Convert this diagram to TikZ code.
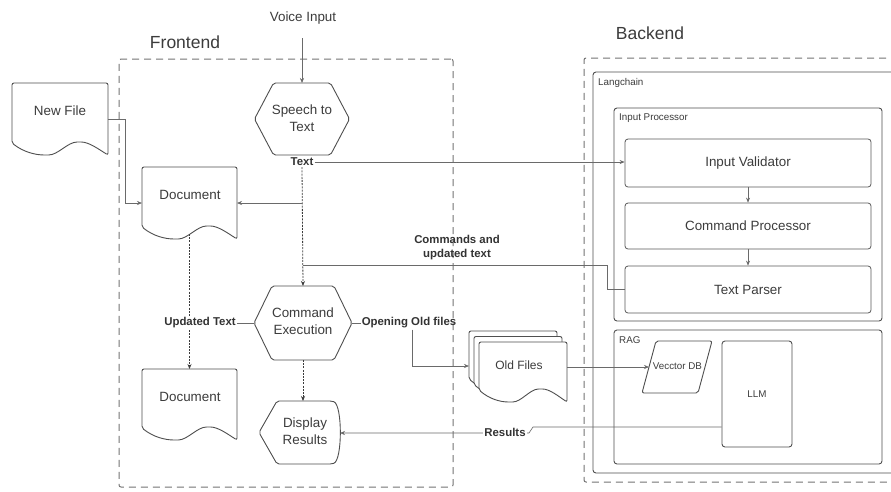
\documentclass[tikz,border=0pt]{standalone}
\usepackage{fontspec}
\setmainfont{Liberation Sans}
\usetikzlibrary{calc,arrows.meta}

\definecolor{ink}{HTML}{3C3C3C}
\definecolor{edge}{HTML}{4F4F4F}
\definecolor{wire}{HTML}{6A6A6A}
\definecolor{frame}{HTML}{747474}

% hexagon outline around a placeholder node: #1 node, #2 corner inset
\newcommand\hexshape[2]{%
  \draw[shapeline] (#1.west) -- ([xshift=#2]#1.north west) -- ([xshift=-#2]#1.north east)
    -- (#1.east) -- ([xshift=-#2]#1.south east) -- ([xshift=#2]#1.south west) -- cycle;}

% document outline (wavy bottom) around a placeholder node: #1 node, #2 extra draw options
\newcommand\docshape[2]{%
  \draw[shapeline,#2] (#1.north west) -- (#1.north east) -- (#1.south east)
    .. controls ($(#1.south west)!0.9!(#1.south east)+(0,-6)$) and ($(#1.south west)!0.8!(#1.south east)+(0,-13)$)
    .. ($(#1.south west)!0.7!(#1.south east)+(0,-13)$)
    .. controls ($(#1.south west)!0.58!(#1.south east)+(0,-13)$) and ($(#1.south west)!0.48!(#1.south east)$)
    .. ($(#1.south west)!0.36!(#1.south east)$)
    .. controls ($(#1.south west)!0.24!(#1.south east)$) and ($(#1.south west)!0.12!(#1.south east)+(0,-3)$)
    .. ($(#1.south west)+(0,-12)$) -- cycle;}

\begin{document}
\begin{tikzpicture}[x=1pt,y=-1pt,
  maintext/.style={text=ink, font=\fontsize{13.4}{16.7}\selectfont, align=center, inner sep=0pt},
  tag/.style={text=ink!85!black, font=\bfseries\fontsize{11.4}{13.3}\selectfont, align=center, inner sep=1pt},
  small/.style={text=ink, font=\fontsize{9.8}{12}\selectfont, inner sep=0pt, anchor=west},
  heading/.style={text=ink, font=\fontsize{17.5}{21}\selectfont, inner sep=0pt},
  holder/.style={draw=none, inner sep=0pt, outer sep=0pt},
  shapeline/.style={draw=edge, line width=0.9pt, rounded corners=2pt},
  container/.style={draw=edge, line width=0.9pt, rounded corners=3pt, inner sep=0pt},
  stepbox/.style={draw=wire!85!black, line width=0.8pt, rounded corners=3pt, minimum width=246pt,
    text=ink, font=\fontsize{13.4}{16.7}\selectfont},
  zone/.style={draw=frame, line width=1pt, dash pattern=on 7pt off 5pt, rounded corners=2pt, inner sep=0pt},
  conn/.style={draw=wire, line width=0.6pt},
  arr/.style={-{Stealth[length=5pt,width=4pt]}},
  dots/.style={draw=ink, line width=0.8pt, dash pattern=on 2pt off 1.2pt}]

\useasboundingbox (0,0) rectangle (891,491);
\fill[white] (0,0) rectangle (891,491);

% dashed zones
\node[zone, minimum width=334pt, minimum height=428pt] (front) at (286,273) {};
\node[zone, minimum width=316pt, minimum height=424pt] (back) at (742,270) {};
\node[heading] (fehead) at (185,42) {Frontend};
\node[heading] (behead) at (650,33) {Backend};

% backend containers
\node[container, minimum width=303pt, minimum height=401pt] (lang) at (744.5,272.5) {};
\node[small] (langlbl) at (598,83) {Langchain};
\node[container, minimum width=268pt, minimum height=213pt] (inproc) at (748,214.5) {};
\node[small] (inproclbl) at (619,118) {Input Processor};
\node[container, minimum width=268pt, minimum height=134pt] (rag) at (748,397) {};
\node[small] (raglbl) at (619,340) {RAG};

% input processor steps
\node[stepbox, minimum height=48pt] (iv) at (748,163) {Input Validator};
\node[stepbox, minimum height=46pt] (cp) at (748,226) {Command Processor};
\node[stepbox, minimum height=47pt] (tp) at (748,289.5) {Text Parser};
\draw[conn,arr] (iv.south) -- (cp.north);
\draw[conn,arr] (cp.south) -- (tp.north);

% RAG parts
\node[holder, minimum width=70pt, minimum height=52pt] (vdb) at (677,367) {};
\draw[shapeline] (vdb.south west) -- ([xshift=14pt]vdb.north west) -- (vdb.north east)
  -- ([xshift=-14pt]vdb.south east) -- cycle;
\node[maintext, font=\fontsize{9.8}{12}\selectfont] (vdbt) at (677.5,366) {Vecctor DB};
\node[container, draw=edge, minimum width=70pt, minimum height=106pt,
  text=ink, font=\fontsize{9.8}{12}\selectfont] (llm) at (757,394) {LLM};

% frontend shapes
\node[maintext] (voice) at (303,18) {Voice Input};
\coordinate (vstart) at (302,38);

\node[holder, minimum width=95pt, minimum height=72pt] (s2t) at (302,119) {};
\hexshape{s2t}{19pt}
\node[maintext] (s2tt) at (302,118) {Speech to\\Text};

\node[holder, minimum width=98pt, minimum height=74pt] (ce) at (303,323) {};
\hexshape{ce}{18pt}
\node[maintext] (cet) at (303,321) {Command\\Execution};

\node[holder, minimum width=81pt, minimum height=63pt] (disp) at (299.5,432.5) {};
\draw[shapeline] (disp.west) -- ([xshift=18pt]disp.north west) -- ([xshift=-8pt]disp.north east)
  .. controls ([xshift=2.5pt,yshift=-4pt]disp.north east) and ([xshift=2.5pt,yshift=4pt]disp.south east)
  .. ([xshift=-8pt]disp.south east) -- ([xshift=18pt]disp.south west) -- cycle;
\node[maintext] (dispt) at (305,431) {Display\\Results};

\node[holder, minimum width=96pt, minimum height=72pt] (nf) at (60,119) {};
\docshape{nf}{}
\node[maintext] (nft) at (60,111) {New File};

\node[holder, minimum width=95pt, minimum height=72pt] (doc1) at (189.5,203) {};
\docshape{doc1}{}
\node[maintext] (doc1t) at (190,195) {Document};

\node[holder, minimum width=95pt, minimum height=71pt] (doc2) at (189.5,404.5) {};
\docshape{doc2}{}
\node[maintext] (doc2t) at (190,397) {Document};

% stacked old files
\node[holder, minimum width=88pt, minimum height=60pt] (ofback) at (513,361) {};
\node[holder, minimum width=88pt, minimum height=60pt] (ofmid) at (518,366.5) {};
\node[holder, minimum width=88pt, minimum height=60pt] (offront) at (523,372) {};
\docshape{ofback}{fill=white}
\docshape{ofmid}{fill=white}
\docshape{offront}{fill=white}
\node[maintext, font=\fontsize{12}{14}\selectfont] (oft) at (519,365) {Old Files};

% connectors
\draw[conn,arr] (vstart) -- (s2t.north);

\node[tag, fill=white] (txtlbl) at (302,162) {Text};
\draw[conn,arr] (txtlbl.east) -- (txtlbl.east -| iv.west);
\draw[dots,arr] (txtlbl.south) -- (ce.north);
\coordinate (br1) at (302,203);
\draw[conn,arr] (br1) -- (br1 -| doc1.east);

\coordinate (nfj) at (125,203);
\draw[conn,arr] (nf.east) -| (nfj) -- (nfj -| doc1.west);

\coordinate (cj) at (607,265);
\draw[conn] (tp.west) -| (cj) -- (cj -| ce.north);
\node[tag] (cmdlbl) at (457,247.5) {Commands and\\updated text};

\draw[dots,arr] ([yshift=5pt]doc1.south) -- (doc2.north);
\node[tag, fill=white] (utlbl) at (200,323) {Updated Text};
\draw[conn] (ce.west) -- (utlbl.east);

\draw[dots,arr] (ce.south) -- (ce.south |- disp.north);

\node[tag] (oolbl) at (409,323) {Opening Old files};
\draw[conn] (ce.east) -- (oolbl.west);
\coordinate (ojog) at (412,366);
\draw[conn,arr] (oolbl.south -| ojog) -- (ojog) -- (ojog -| ofback.west);

\coordinate (vin) at ($(vdb.south west)!0.5!([xshift=14pt]vdb.north west)$);
\draw[conn,arr] (vin -| offront.east) -- (vin);

\coordinate (rj1) at (533,427);
\coordinate (rj2) at (529,433);
\draw[conn,arr] (rj1 -| llm.west) -- (rj1) -- (rj2) -- (rj2 -| disp.east);
\node[tag, fill=white] (reslbl) at (505,432) {Results};

\end{tikzpicture}
\end{document}
